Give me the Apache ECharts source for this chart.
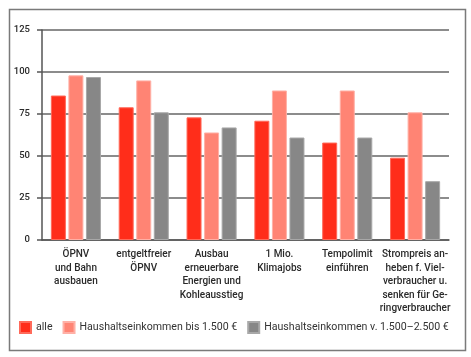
<!DOCTYPE html>
<html><head><meta charset="utf-8">
<script src="https://cdn.jsdelivr.net/npm/echarts@6/dist/echarts.min.js"></script>
<style>html,body{margin:0;padding:0;background:#fff}#c{width:471px;height:357px}</style>
</head><body><div id="c"></div>
<script>
const categories = [
  "ÖPNV\nund Bahn\nausbauen",
  "entgeltfreier\nÖPNV",
  "Ausbau\nerneuerbare\nEnergien und\nKohleausstieg",
  "1 Mio.\nKlimajobs",
  "Tempolimit\neinführen",
  "Strompreis an-\nheben f. Viel-\nverbraucher u.\nsenken für Ge-\nringverbraucher"
];
const seriesNames = ["alle", "Haushaltseinkommen bis 1.500 €", "Haushaltseinkommen v. 1.500–2.500 €"];
const alle = [86, 79, 73, 71, 58, 49];
const bis1500 = [98, 95, 64, 89, 89, 76];
const v1500bis2500 = [97, 76, 67, 61, 61, 35];
const yTicks = [0, 25, 50, 75, 100, 125];

const colors = ["#ff2d1a", "#ff8474", "#878787"];
const borders = ["#ff6a5a", "#ffb0a6", "#a8a8a8"];
const font = "Roboto, 'DejaVu Sans', sans-serif";

const chart = echarts.init(document.getElementById('c'), null, {renderer: 'canvas'});
const dataSets = [alle, bis1500, v1500bis2500];
chart.setOption({
  animation: false,
  color: colors,
  graphic: [{
    type: 'rect', left: 7, top: 7, shape: {width: 456, height: 341},
    style: {fill: 'none', stroke: '#7a7a7a', lineWidth: 1.5}, silent: true
  }],
  grid: {left: 42, right: 22, top: 30, bottom: 117},
  legend: {
    left: 19, top: 321, width: 450, padding: 0, itemWidth: 11, itemHeight: 11, itemGap: 10,
    icon: 'rect',
    textStyle: {fontFamily: font, fontSize: 10.6, color: '#333'},
    data: seriesNames
  },
  xAxis: {
    type: 'category', data: categories,
    axisLine: {show: true, lineStyle: {color: '#555', width: 1.5}},
    axisTick: {show: false},
    axisLabel: {interval: 0, margin: 8, fontFamily: font, fontWeight: 500, fontSize: 10, color: '#2a2a2a', lineHeight: 13.5, align: 'center'}
  },
  yAxis: {
    type: 'value', min: 0, max: 125, interval: 25,
    axisLine: {show: true, lineStyle: {color: '#555', width: 1.5}},
    axisTick: {show: true, length: 5, lineStyle: {color: '#555', width: 1.5}},
    axisLabel: {margin: 12, fontFamily: font, fontWeight: 500, fontSize: 9.5, color: '#2a2a2a',
      formatter: v => yTicks.includes(v) ? String(v) : ''},
    splitLine: {show: true, lineStyle: {color: '#666', width: 1.5}}
  },
  series: dataSets.map((d, i) => ({
    name: seriesNames[i], type: 'bar', data: d,
    barWidth: 15, barGap: '17%', barCategoryGap: '26%',
    itemStyle: {color: colors[i], borderColor: borders[i], borderWidth: 1}
  }))
});
</script></body></html>
